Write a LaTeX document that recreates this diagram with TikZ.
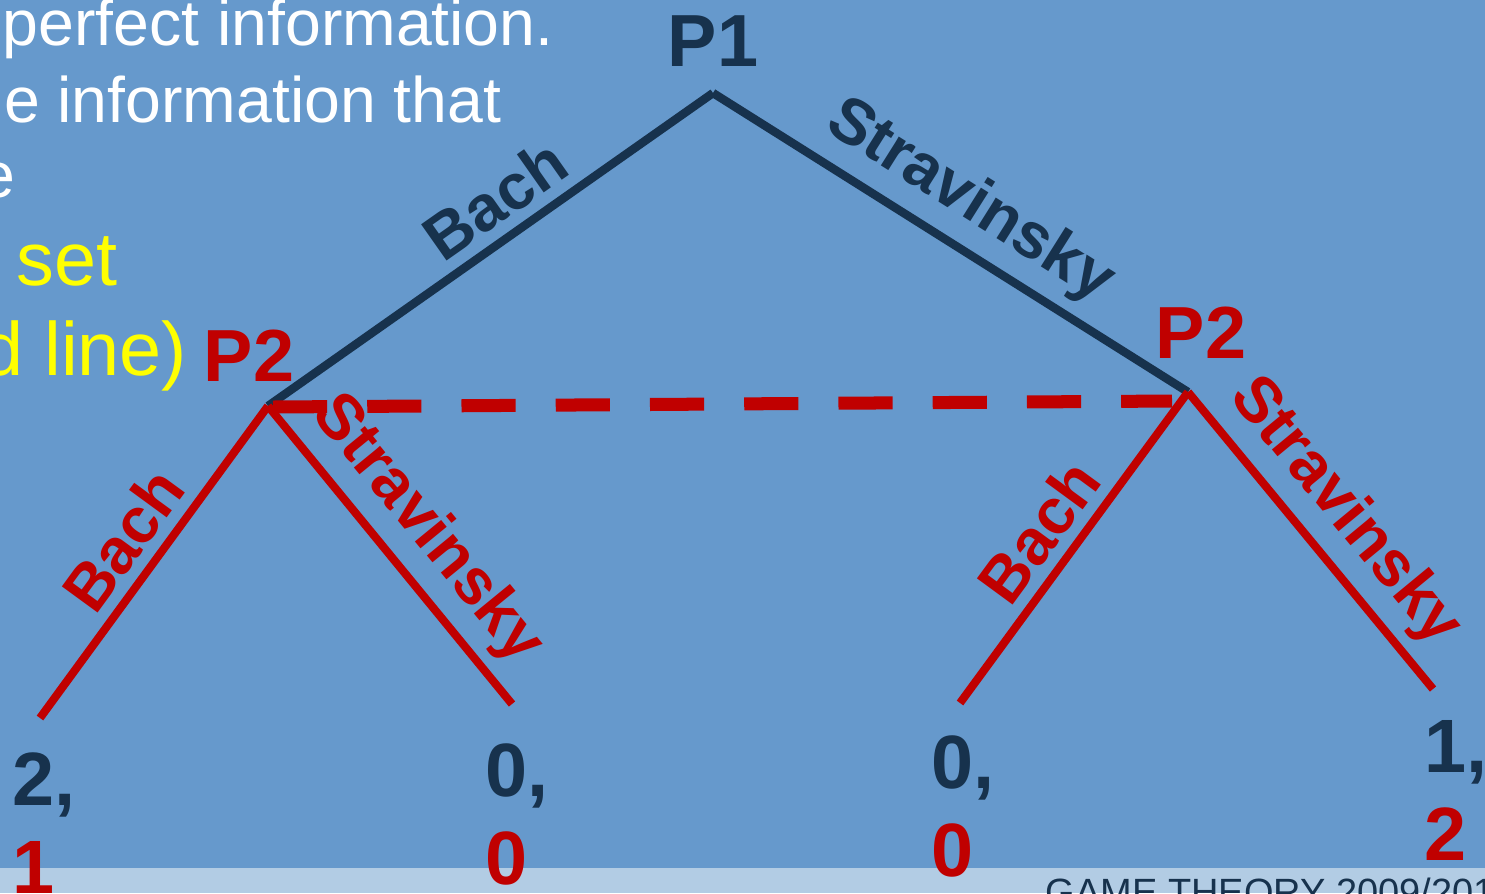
\documentclass[tikz,border=0pt]{standalone}
\usepackage{fontspec}
\setmainfont{Liberation Sans}
\usetikzlibrary{positioning}

\definecolor{slideblue}{RGB}{102,153,204}
\definecolor{stripblue}{RGB}{178,204,228}
\definecolor{colPone}{RGB}{23,50,77}
\definecolor{colPtwo}{RGB}{192,0,0}
\definecolor{hiyellow}{RGB}{255,255,0}

\tikzset{
  p1move/.style={line width=2.4pt, colPone},
  p2move/.style={line width=2.3pt, colPtwo},
  infoset/.style={line width=3.7pt, colPtwo, dash pattern=on 15.4pt off 11.4pt},
  movelabel/.style={font=\bfseries\fontsize{18.3}{22}\selectfont, sloped, above, inner sep=3pt},
  player/.style={font=\bfseries\fontsize{21}{25}\selectfont, inner sep=0pt},
  payoff/.style={font=\bfseries\fontsize{21.5}{25}\selectfont, inner sep=0pt, align=left, colPone},
  bodytext/.style={font=\fontsize{18.3}{22}\selectfont, white, inner sep=0pt},
  hitext/.style={font=\fontsize{21.5}{26}\selectfont, hiyellow, inner sep=0pt},
}

\begin{document}
\begin{tikzpicture}[x=0.01cm, y=-0.01cm]
  \useasboundingbox (0,0) rectangle (1485,893);
  \clip (0,0) rectangle (1485,893);

  % slide background
  \fill[slideblue] (0,0) rectangle (1485,893);
  \fill[stripblue] (0,868) rectangle (1485,893);
  \node[font=\fontsize{10.8}{13}\selectfont, colPone, anchor=base west, inner sep=0pt] (footer) at (1045,905) {GAME THEORY 2009/2010};

  % slide text (cut at the left edge)
  \node[bodytext, anchor=base west] (txta) at (2,45) {perfect information.};
  \node[bodytext, anchor=base east] (txtb) at (502,122) {he information that};
  \node[bodytext, anchor=base east] (txtc) at (16,197) {e};
  \node[hitext, anchor=base west] (txtd) at (16,285) {set};
  \node[hitext, anchor=base east] (txte) at (188,375) {d line)};

  % decision nodes and leaves
  \coordinate (root) at (713,93);
  \coordinate (l) at (268,406);
  \coordinate (r) at (1188,392);
  \coordinate (ll) at (40,718);
  \coordinate (lr) at (512,704);
  \coordinate (rl) at (960,703);
  \coordinate (rr) at (1433,689);
  \coordinate (isl) at (273,407);
  \coordinate (isr) at (1172,401);

  % moves of player 1
  \draw[p1move] (root) -- (l) node[movelabel, pos=0.44] (mbach) {Bach};
  \draw[p1move] (root) -- (r) node[movelabel, pos=0.49] (mstrav) {Stravinsky};

  % moves of player 2
  \draw[p2move] (l) -- (ll) node[movelabel, pos=0.5] (lbach) {Bach};
  \draw[p2move] (l) -- (lr) node[movelabel, pos=0.51] (lstrav) {Stravinsky};
  \draw[p2move] (r) -- (rl) node[movelabel, pos=0.52] (rbach) {Bach};
  \draw[p2move] (r) -- (rr) node[movelabel, pos=0.5] (rstrav) {Stravinsky};

  % information set
  \draw[infoset] (isl) -- (isr);

  % players
  \node[player, colPone, above=0.26cm of root] (pone) {P1};
  \node[player, colPtwo, above=0.24cm of l, xshift=-0.19cm] (ptwol) {P2};
  \node[player, colPtwo, above=0.33cm of r, xshift=0.13cm] (ptwor) {P2};

  % payoffs
  \node[payoff, below right=0.34cm and -0.28cm of ll] (payll) {2,\\\textcolor{colPtwo}{1}};
  \node[payoff, below right=0.39cm and -0.27cm of lr] (paylr) {0,\\\textcolor{colPtwo}{0}};
  \node[payoff, below right=0.32cm and -0.29cm of rl] (payrl) {0,\\\textcolor{colPtwo}{0}};
  \node[payoff, below right=0.31cm and -0.09cm of rr] (payrr) {1,\\\textcolor{colPtwo}{2}};
\end{tikzpicture}
\end{document}
